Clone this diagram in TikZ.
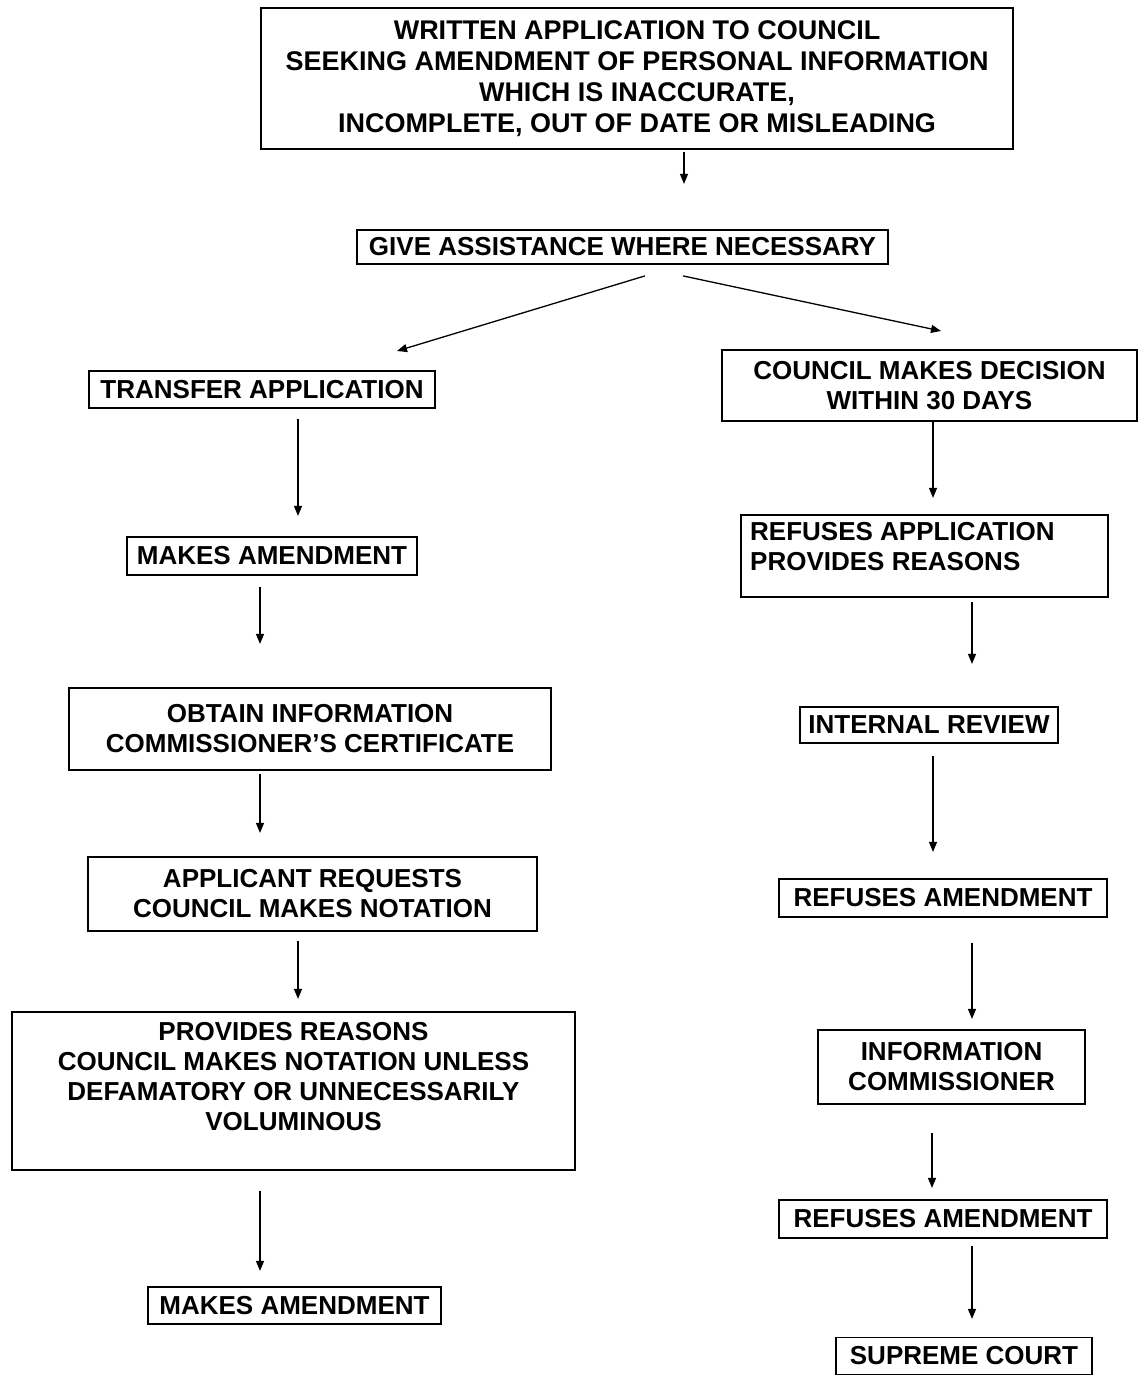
\documentclass[tikz,border=0pt]{standalone}
\usepackage{fontspec}
\setmainfont{Liberation Sans}
\usetikzlibrary{arrows.meta}
\tikzset{
  box/.style={draw, line width=1.8pt, inner sep=0pt, align=center,
    font=\fontsize{26}{30}\selectfont\bfseries},
  txt/.style={inner sep=0pt, align=center, font=\fontsize{26}{30}\selectfont\bfseries},
  arr/.style={line width=1.3pt, -{Triangle[length=10pt,width=8pt]}}
}
\begin{document}
\begin{tikzpicture}[x=1pt,y=-1pt]
\useasboundingbox (0,0) rectangle (1138,1375);
% boxes
\node[box, minimum width=752, minimum height=141, font=\fontsize{27}{31}\selectfont\bfseries] (top) at (637,78.5)
  {WRITTEN APPLICATION TO COUNCIL\\SEEKING AMENDMENT OF PERSONAL INFORMATION\\WHICH IS INACCURATE,\\INCOMPLETE, OUT OF DATE OR MISLEADING};
\node[box, minimum width=531, minimum height=34] (give) at (622.5,247) {GIVE ASSISTANCE WHERE NECESSARY};
\node[box, minimum width=346, minimum height=37] (transfer) at (262,389.5) {TRANSFER APPLICATION};
\node[box, minimum width=415, minimum height=71] (council) at (929.5,385.5) {COUNCIL MAKES DECISION\\WITHIN 30 DAYS};
\node[box, minimum width=290, minimum height=38] (make1) at (272,556) {MAKES AMENDMENT};
\node[box, minimum width=367, minimum height=82] (refapp) at (924.5,556) {};
\node[txt, anchor=north west, align=left] (refappt) at (750,522) {REFUSES APPLICATION\\PROVIDES REASONS};
\node[box, minimum width=482, minimum height=82] (obtain) at (310,729) {OBTAIN INFORMATION\\COMMISSIONER'S CERTIFICATE};
\node[box, minimum width=258, minimum height=36] (intrev) at (929,725) {INTERNAL REVIEW};
\node[box, minimum width=449, minimum height=74] (applic) at (312.5,894) {APPLICANT REQUESTS\\COUNCIL MAKES NOTATION};
\node[box, minimum width=328, minimum height=38] (refam1) at (943,898) {REFUSES AMENDMENT};
\node[box, minimum width=563, minimum height=158] (prov) at (293.5,1091) {};
\node[txt] (provt) at (293.5,1077) {PROVIDES REASONS\\COUNCIL MAKES NOTATION UNLESS\\DEFAMATORY OR UNNECESSARILY\\VOLUMINOUS};
\node[box, minimum width=267, minimum height=74] (infcom) at (951.5,1067) {INFORMATION\\COMMISSIONER};
\node[box, minimum width=328, minimum height=38] (refam2) at (943,1219) {REFUSES AMENDMENT};
\node[box, minimum width=293, minimum height=37] (make2) at (294.5,1305.5) {MAKES AMENDMENT};
\node[box, minimum width=256, minimum height=37] (supreme) at (964,1356) {SUPREME COURT};
% free arrow ends
\coordinate (d1) at (397,351);
\coordinate (d2) at (941,331);
% arrows
\draw[arr, shorten <=2pt] (top.south -| 684,0) -- ++(0,34);
\draw[arr] (give.south -| 645,0) ++(0,11) -- (d1);
\draw[arr] (give.south -| 683,0) ++(0,11) -- (d2);
\draw[arr] (transfer.south -| 298,0) ++(0,10) -- ++(0,97);
\draw[arr] (council.south -| 933,0) -- ++(0,76);
\draw[arr] (make1.south -| 260,0) ++(0,11) -- ++(0,57);
\draw[arr] (refapp.south -| 972,0) ++(0,4) -- ++(0,62);
\draw[arr] (obtain.south -| 260,0) ++(0,3) -- ++(0,59);
\draw[arr] (intrev.south -| 933,0) ++(0,12) -- ++(0,96);
\draw[arr] (applic.south -| 298,0) ++(0,9) -- ++(0,58);
\draw[arr] (refam1.south -| 972,0) ++(0,25) -- ++(0,76);
\draw[arr] (prov.south -| 260,0) ++(0,20) -- ++(0,80);
\draw[arr] (infcom.south -| 932,0) ++(0,28) -- ++(0,55);
\draw[arr] (refam2.south -| 972,0) ++(0,7) -- ++(0,73);
\end{tikzpicture}
\end{document}
